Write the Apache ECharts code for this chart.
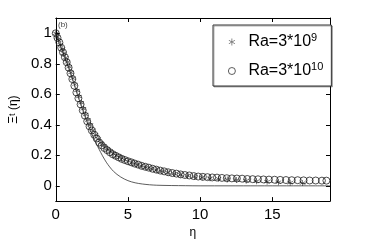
<!DOCTYPE html>
<html><head><meta charset="utf-8">
<script src="https://cdn.jsdelivr.net/npm/echarts@6/dist/echarts.min.js"></script>
<style>html,body{margin:0;padding:0;background:#fff}#c{width:365px;height:244px}</style>
</head><body><div id="c"></div>
<script>
// Ra = 3*10^10 (circles)
var circleEta = [0,0.12,0.25,0.38,0.5,0.63,0.76,0.89,1.02,1.15,1.29,1.43,1.57,1.72,1.87,2.02,2.18,2.34,2.5,2.67,2.84,3.01,3.19,3.37,3.56,3.75,3.95,4.15,4.36,4.57,4.79,5.01,5.24,5.47,5.71,5.95,6.2,6.45,6.71,6.97,7.24,7.51,7.79,8.07,8.36,8.65,8.95,9.25,9.56,9.87,10.19,10.51,10.84,11.17,11.51,11.85,12.2,12.55,12.91,13.27,13.64,14.01,14.39,14.77,15.16,15.55,15.95,16.35,16.76,17.17,17.59,18.01,18.44,18.75];
var circleVal = [1.0,0.97,0.94,0.905,0.875,0.843,0.81,0.775,0.738,0.70,0.656,0.612,0.574,0.534,0.495,0.46,0.423,0.39,0.363,0.335,0.31,0.284,0.265,0.248,0.234,0.22,0.207,0.197,0.187,0.177,0.169,0.161,0.154,0.146,0.139,0.131,0.125,0.119,0.112,0.106,0.1,0.095,0.089,0.084,0.08,0.075,0.071,0.068,0.064,0.061,0.059,0.057,0.055,0.054,0.052,0.05,0.049,0.048,0.047,0.045,0.044,0.043,0.042,0.041,0.04,0.039,0.038,0.037,0.037,0.036,0.035,0.035,0.034,0.034];
// Ra = 3*10^9 (asterisks)
var starEta = [0,0.1,0.2,0.32,0.44,0.56,0.68,0.8,0.93,1.06,1.19,1.33,1.47,1.61,1.76,1.91,2.07,2.23,2.4,2.57,2.75,2.94,3.13,3.33,3.54,3.76,3.99,4.23,4.48,4.74,5.01,5.3,5.6,5.92,6.25,6.6,6.97,7.36,7.77,8.2,8.65,9.12,9.62,10.14,10.69,11.27,11.88,12.52,13.19,13.9,14.64,15.42,16.24,17.1];
var starVal = [1.0,0.975,0.952,0.925,0.897,0.869,0.84,0.812,0.78,0.743,0.705,0.665,0.625,0.585,0.545,0.505,0.468,0.432,0.398,0.365,0.335,0.307,0.283,0.262,0.243,0.226,0.211,0.197,0.185,0.173,0.162,0.152,0.142,0.132,0.122,0.113,0.104,0.095,0.087,0.079,0.072,0.066,0.06,0.055,0.05,0.046,0.042,0.038,0.034,0.03,0.027,0.024,0.021,0.019];
// reference curve (solid line)
var lineEta = [0,0.5,1,1.5,2,2.5,3,3.5,4,4.5,5,5.5,6,6.5,7,8,9,10,12,14,16,18,19];
var lineVal = [1.0,0.875,0.745,0.6,0.46,0.34,0.24,0.155,0.095,0.058,0.034,0.02,0.012,0.007,0.004,0.002,0.001,0,0,0,0,0,0];

var xTicks = [0,5,10,15];
var yTicks = [0,0.2,0.4,0.6,0.8,1];
var seriesNames = ['Ra=3*10^9','Ra=3*10^10'];

function zip(a,b){return a.map(function(v,i){return [v,b[i]];});}
var FONT = '"Liberation Sans", Arial, sans-serif';
var asterisk = 'path://M-0.5,-5L0.5,-5L0.5,5L-0.5,5ZM-4.6,-2.1L-4.1,-2.9L4.6,2.1L4.1,2.9ZM-4.6,2.1L-4.1,2.9L4.6,-2.1L4.1,-2.9Z';

var chart = echarts.init(document.getElementById('c'), null, {renderer:'canvas'});
var axLine = {show:true, onZero:false, lineStyle:{color:'#000', width:1}};
chart.setOption({
  backgroundColor:'#fff',
  animation:false,
  grid:{left:47, right:35, top:18, bottom:35},
  xAxis:[{
    type:'value', min:0, max:19, position:'bottom',
    axisLine:axLine, splitLine:{show:false},
    axisTick:{inside:true, length:4, customValues:xTicks, lineStyle:{color:'#000'}},
    axisLabel:{customValues:xTicks, color:'#000', fontSize:15, fontFamily:FONT, margin:6},
    name:'η', nameLocation:'middle', nameGap:24,
    nameTextStyle:{color:'#000', fontSize:12, fontFamily:FONT}
  },{
    type:'value', min:0, max:19, position:'top',
    axisLine:axLine, splitLine:{show:false},
    axisTick:{inside:true, length:4, customValues:xTicks, lineStyle:{color:'#000'}},
    axisLabel:{show:false}
  }],
  yAxis:[{
    type:'value', min:-0.1, max:1.1, position:'left',
    axisLine:axLine, splitLine:{show:false},
    axisTick:{inside:true, length:4, customValues:yTicks, lineStyle:{color:'#000'}},
    axisLabel:{customValues:yTicks, color:'#000', fontSize:15, fontFamily:FONT, margin:4},
    name:'{a|Ξ}{s|t}{a| (η)}', nameLocation:'middle', nameRotate:90, nameGap:31,
    nameTextStyle:{color:'#000', fontFamily:FONT, rich:{
      a:{fontSize:12, fontFamily:FONT, color:'#000'},
      s:{fontSize:9, fontFamily:FONT, color:'#000', verticalAlign:'top'}
    }}
  },{
    type:'value', min:-0.1, max:1.1, position:'right',
    axisLine:axLine, splitLine:{show:false},
    axisTick:{inside:true, length:4, customValues:yTicks, lineStyle:{color:'#000'}},
    axisLabel:{show:false}
  }],
  legend:{
    left:213, top:25, orient:'vertical',
    width:111, itemGap:11,
    padding:[7,8,7,15],
    borderColor:'#333', borderWidth:1, backgroundColor:'#fff',
    shadowColor:'rgba(0,0,0,0.3)', shadowOffsetX:1, shadowOffsetY:1, shadowBlur:0,
    itemWidth:7, itemHeight:7,
    data:[
      {name:seriesNames[0], itemStyle:{color:'#333', borderWidth:0}},
      {name:seriesNames[1], itemStyle:{color:'rgba(255,255,255,0)', borderColor:'#333', borderWidth:0.8}}
    ],
    formatter:function(n){
      return n === seriesNames[0] ? '{b|Ra=3*10}{s|9}' : '{b|Ra=3*10}{s|10}';
    },
    textStyle:{color:'#000', padding:[0,0,0,8], rich:{
      b:{fontSize:16, fontFamily:FONT, color:'#000', lineHeight:20},
      s:{fontSize:11, fontFamily:FONT, color:'#000', verticalAlign:'top', lineHeight:20}
    }}
  },
  graphic:[{type:'text', left:58, top:21, style:{text:'(b)', font:'8px '+FONT, fill:'#444'}}],
  series:[{
    name:'line', type:'line', data:zip(lineEta,lineVal), smooth:0.3,
    showSymbol:false, lineStyle:{color:'#333', width:0.8}, z:1
  },{
    name:seriesNames[1], type:'scatter', data:zip(circleEta,circleVal),
    symbol:'circle', symbolSize:7,
    itemStyle:{color:'rgba(255,255,255,0)', borderColor:'#222', borderWidth:0.8, opacity:1}, z:3
  },{
    name:seriesNames[0], type:'scatter', data:zip(starEta,starVal),
    symbol:asterisk, symbolSize:6,
    itemStyle:{color:'#111', borderWidth:0}, z:4
  }]
});
</script></body></html>
